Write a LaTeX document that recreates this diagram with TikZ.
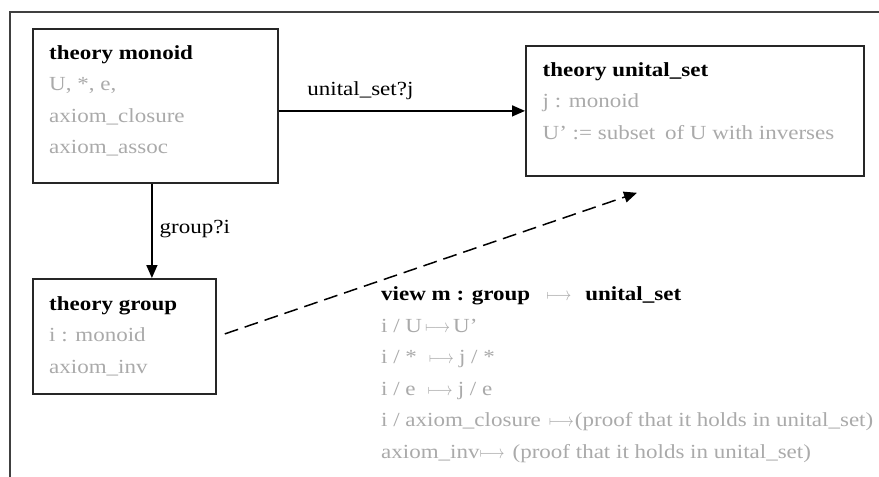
\documentclass[tikz,border=0pt]{standalone}
\usepackage{fontspec}
\setmainfont{Liberation Serif}[FakeStretch=1.15]
\usetikzlibrary{arrows.meta, positioning}
\definecolor{frameColor}{RGB}{64, 64, 64}
\definecolor{memberColor}{RGB}{170, 170, 170}
\newcommand{\thyTitle}[1]{{\bfseries\color{black}#1}}
\newcommand{\mapArrow}{\textcolor{memberColor}{\scalebox{0.75}[0.9]{$\longmapsto$}}}

\begin{document}
\begin{tikzpicture}[x=1pt, y=-1pt,
    font=\fontsize{20}{31.5}\selectfont,
    theoryBox/.style={draw=black!85, line width=1.8pt, inner sep=0pt, anchor=north west},
    memberText/.style={text=memberColor, align=left, anchor=base west, inner sep=0pt},
    edgeLabel/.style={anchor=base west, inner sep=0pt},
    edgeArrow/.style={line width=1.5pt, -{Triangle[length=13pt, width=11pt]}},
    viewArrow/.style={edgeArrow, dash pattern=on 14pt off 7pt}]
    \useasboundingbox (0,0) rectangle (879,477);
    \draw[line width=1.4pt, frameColor] (879,12) -- (10,12) -- (10,477);

    % theories
    \node[theoryBox, minimum width=245pt, minimum height=154pt] (monoid) at (32,28) {};
    \node[theoryBox, minimum width=338pt, minimum height=130pt] (unital) at (525,45) {};
    \node[theoryBox, minimum width=183pt, minimum height=115pt] (group) at (32,278) {};

    % base of a member list = baseline of its last line
    \node[memberText] (monoidText) at ([xshift=17pt, yshift=-125.5pt]monoid.north west)
        {\thyTitle{theory monoid}\\ U, *, e,\\ axiom\_closure\\ axiom\_assoc};
    \node[memberText] (unitalText) at ([xshift=17.5pt, yshift=-94pt]unital.north west)
        {\thyTitle{theory unital\_set}\\ j : monoid\\ U’ := subset\hspace{4pt} of U with inverses};
    \node[memberText] (groupText) at ([xshift=17pt, yshift=-95pt]group.north west)
        {\thyTitle{theory group}\\ i : monoid\\ axiom\_inv};

    % imports
    \draw[edgeArrow] (monoid.east |- unital.west)
        -- node[edgeLabel, pos=0.113, yshift=15.7pt] (unitalLabel) {unital\_set?j} (unital.west);
    \draw[edgeArrow] ([xshift=-3.5pt]monoid.south)
        -- node[edgeLabel, pos=0.53, xshift=7pt] (groupLabel) {group?i} ([xshift=-3.5pt]monoid.south |- group.north);

    % view
    \coordinate (viewFrom) at ([xshift=8pt, yshift=2.5pt]group.east);
    \coordinate (viewTo) at ([xshift=112pt, yshift=-16pt]unital.south west);
    \draw[viewArrow] (viewFrom) -- (viewTo);
    \node[memberText] (viewText) at (381,458.2)
        {\thyTitle{view m : group}\hspace{16pt}\mapArrow\hspace{14pt}\thyTitle{unital\_set}\\
         i / U\hspace{3pt}\mapArrow\hspace{3pt}U’\\
         i / *\hspace{12pt}\mapArrow\hspace{5pt}j / *\\
         i / e\hspace{12pt}\mapArrow\hspace{5pt}j / e\\
         i / axiom\_closure\hspace{8pt}\mapArrow\hspace{1pt}(proof that it holds in unital\_set)\\
         axiom\_inv\mapArrow\hspace{8pt}(proof that it holds in unital\_set)};
\end{tikzpicture}
\end{document}
